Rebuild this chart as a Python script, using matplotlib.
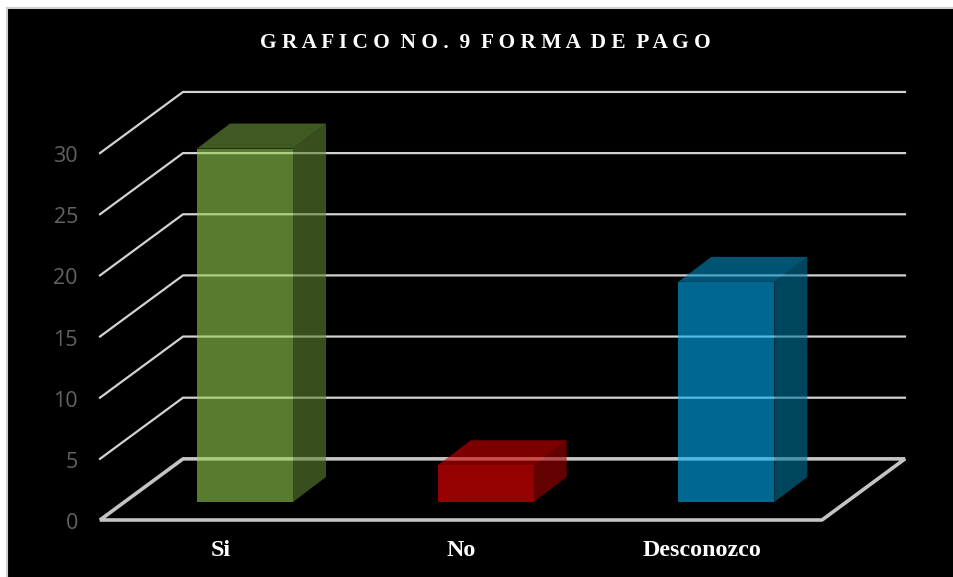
import matplotlib
matplotlib.use("Agg")
import matplotlib.pyplot as plt
from matplotlib.patches import Polygon, Rectangle

categories = ["Si", "No", "Desconozco"]
values = [28.9, 3.0, 18.0]
y_ticks = [0, 5, 10, 15, 20, 25, 30]

# face colours are see-through so the gridlines show behind the bars
front_colors = ["#96cf50", "#fa0000", "#00adf2"]
side_colors = ["#5e8532", "#a60000", "#00749e"]
top_colors = ["#6b963c", "#d00000", "#008cbf"]

W, H = 954, 577
PX_X = 240.67   # pixels per category
PX_Y = 12.23    # pixels per value unit
X0_PX, Y0_PX = 245, 520   # where category 0 / value 0 sit

# depth of the floor and of the bars, in data units
wall_dx, wall_dy = 83 / PX_X, 5.0
bar_dx, bar_dy = 33 / PX_X, 25 / PX_Y
bar_lift = 18 / PX_Y
bar_width = 96 / PX_X
left, right = -145 / PX_X, 577 / PX_X

fig = plt.figure(figsize=(W / 100, H / 100), dpi=100)
ax = fig.add_axes([0, 0, 1, 1])
ax.set_xlim(-X0_PX / PX_X, (W - X0_PX) / PX_X)
ax.set_ylim(-(H - Y0_PX) / PX_Y, Y0_PX / PX_Y)
ax.axis("off")

# frame px -> data helpers
def fx(px):
    return (px - X0_PX) / PX_X

def fy(py):
    return (Y0_PX - py) / PX_Y

# only the top and left edges of the frame are inside the picture
ax.add_patch(Rectangle((fx(7), fy(590)), fx(970) - fx(7), fy(7.5) - fy(590),
                       facecolor="black", edgecolor="#d0d0d0", linewidth=1.5, zorder=0))

# gridlines: slanted side wall and back wall
for v in y_ticks[1:]:
    ax.plot([left, left + wall_dx, right + wall_dx], [v, v + wall_dy, v + wall_dy],
            color="#d2d2d2", lw=1.6, zorder=1, solid_joinstyle="miter")
ax.add_patch(Polygon([(left, 0), (left + wall_dx, wall_dy), (right + wall_dx, wall_dy), (right, 0)],
                     closed=True, fill=False, edgecolor="#c4c4c4", lw=2.6, zorder=1,
                     joinstyle="bevel"))

# bars
for i, v in enumerate(values):
    x1, x2 = i - bar_width / 2, i + bar_width / 2
    b = bar_lift
    t = b + v
    ax.add_patch(Polygon([(x1, b), (x2, b), (x2, t), (x1, t)], closed=True,
                         facecolor=front_colors[i], alpha=0.6, lw=0, zorder=2))
    ax.add_patch(Polygon([(x2, b), (x2 + bar_dx, b + bar_dy), (x2 + bar_dx, t + bar_dy), (x2, t)],
                         closed=True, facecolor=side_colors[i], alpha=0.6, lw=0, zorder=2))
    ax.add_patch(Polygon([(x1, t), (x2, t), (x2 + bar_dx, t + bar_dy), (x1 + bar_dx, t + bar_dy)],
                         closed=True, facecolor=top_colors[i], alpha=0.6, lw=0, zorder=2))

# value axis labels
for v in y_ticks:
    ax.text(fx(78), v - 3.5 / PX_Y, str(v), color="#626262", fontsize=15.5, ha="right", va="center",
            family="Open Sans", zorder=3)

# category labels
for i, c in enumerate(categories):
    ax.text(fx([221, 461, 702][i]), fy(550.5), c, color="white", fontsize=17.3, fontweight="bold",
            ha="center", va="center", family="Liberation Serif", zorder=3)

ax.text(fx(485), fy(43.5), "G R A F I C O  N O .  9  F O R M A  D E  P A G O", color="white",
        fontsize=15.4, fontweight="bold", ha="center", va="center",
        family="Liberation Serif", zorder=3)

fig.savefig("out.png", dpi=100, facecolor="white")
